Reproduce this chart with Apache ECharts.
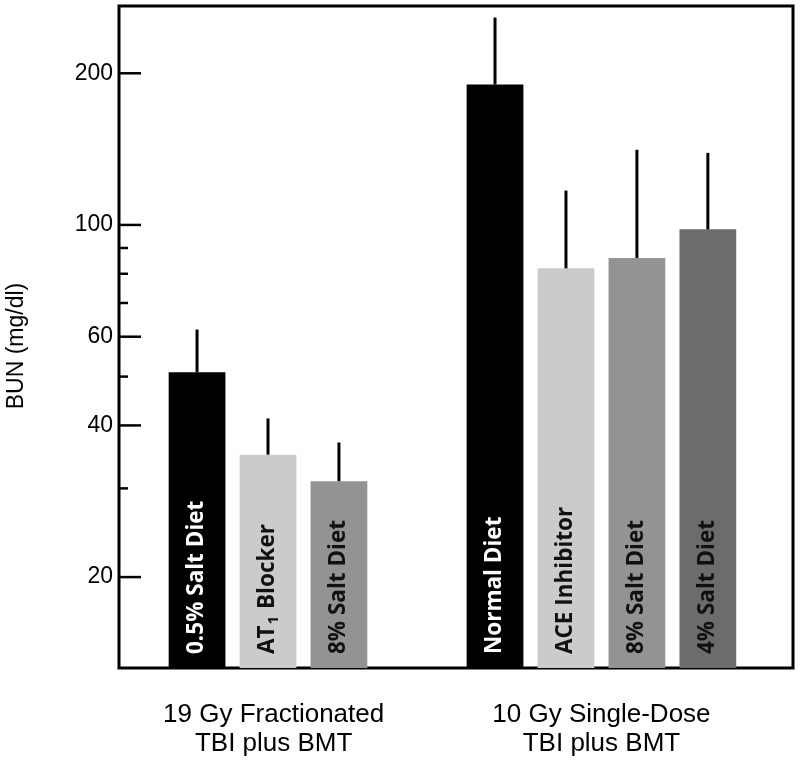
<!DOCTYPE html>
<html>
<head>
<meta charset="utf-8">
<script src="https://cdn.jsdelivr.net/npm/echarts@6/dist/echarts.min.js"></script>
<style>
html,body{margin:0;padding:0;background:#fff;}
#main{width:800px;height:767px;}
</style>
</head>
<body>
<div id="main"></div>
<script>
// ---- data ----
const groupNames = ['19 Gy Fractionated\nTBI plus BMT', '10 Gy Single-Dose\nTBI plus BMT'];
const treatments1 = ['0.5% Salt Diet', 'AT₁ Blocker', '8% Salt Diet'];
const means1 = [51, 35, 31];
const errors1 = [11, 6.3, 6];
const treatments2 = ['Normal Diet', 'ACE Inhibitor', '8% Salt Diet', '4% Salt Diet'];
const means2 = [190, 82, 86, 98];
const errors2 = [68, 35, 55, 41];
const majorTicks = [20, 40, 60, 100, 200];
const minorTicks = [30, 50, 70, 80, 90];
const yTitle = 'BUN (mg/dl)';

// ---- styling / layout ----
const colors1 = ['#000000', '#cbcbcb', '#939393'];
const colors2 = ['#000000', '#cbcbcb', '#939393', '#6c6c6c'];
const groupStart = [1.1, 5.3];
const groupLabelX = [2.18, 6.8];
const barW = 0.8;
const Y_MIN = 13.2, Y_MAX = 272;

const bars = [];
function addGroup(names, means, errs, cols, start) {
  names.forEach((n, i) => {
    bars.push({ name: n, mean: means[i], top: means[i] + errs[i], color: cols[i], x: start + i });
  });
}
addGroup(treatments1, means1, errors1, colors1, groupStart[0]);
addGroup(treatments2, means2, errors2, colors2, groupStart[1]);

function richLabel(t) {
  return t.split('₁').map(p => '{a|' + p + '}').join('{s|1}');
}

const chart = echarts.init(document.getElementById('main'), null, { renderer: 'canvas' });
const option = {
  animation: false,
  backgroundColor: '#fff',
  grid: { left: 119, right: 7, top: 6, bottom: 99, show: true, borderColor: '#000', borderWidth: 3, backgroundColor: 'transparent' },
  xAxis: { type: 'value', min: 0, max: 9.5, show: false },
  yAxis: {
    type: 'log', logBase: 10, min: Y_MIN, max: Y_MAX,
    axisLine: { show: false }, axisTick: { show: false }, axisLabel: { show: false }, splitLine: { show: false }
  },
  graphic: [{
    type: 'text', x: 17, y: 346, rotation: Math.PI / 2,
    style: { text: yTitle, fill: '#000', font: '23px "Liberation Sans", Arial, sans-serif', align: 'center', verticalAlign: 'middle' }
  }],
  series: [
    {
      type: 'custom',
      clip: false,
      encode: { x: 0, y: [1, 2] },
      data: bars.map(b => [b.x, b.mean, b.top]),
      renderItem: function (params, api) {
        const b = bars[params.dataIndex];
        const cs = params.coordSys;
        const bottom = cs.y + cs.height;
        const p = api.coord([api.value(0), api.value(1)]);
        const pt = api.coord([api.value(0), api.value(2)]);
        const w = api.size([barW, 0])[0];
        const textColor = b.color === '#000000' ? '#ffffff' : '#111111';
        const fontBase = { fontFamily: '"Open Sans", sans-serif', fontWeight: 'bold', fill: textColor };
        return {
          type: 'group',
          children: [
            { type: 'rect', shape: { x: p[0] - w / 2, y: p[1], width: w, height: bottom - p[1] }, style: { fill: b.color } },
            { type: 'line', shape: { x1: p[0], y1: p[1], x2: pt[0], y2: pt[1] }, style: { stroke: '#000', lineWidth: 3 } },
            {
              type: 'text', x: p[0] + 1.5, y: bottom - 14, rotation: Math.PI / 2,
              style: {
                text: richLabel(b.name), align: 'left', verticalAlign: 'middle',
                rich: {
                  a: Object.assign({ fontSize: 22.5, lineHeight: 26, verticalAlign: 'top' }, fontBase),
                  s: Object.assign({ fontSize: 15, lineHeight: 18, verticalAlign: 'top', padding: [10, 1, 0, 1] }, fontBase)
                }
              }
            }
          ]
        };
      }
    },
    {
      type: 'custom',
      clip: false,
      encode: { x: 0, y: 1 },
      data: majorTicks.map(v => [0, v, 1]).concat(minorTicks.map(v => [0, v, 0])),
      renderItem: function (params, api) {
        const cs = params.coordSys;
        const v = api.value(1);
        const major = api.value(2) === 1;
        const y = api.coord([0, v])[1];
        const len = major ? 22 : 9;
        const children = [
          { type: 'line', shape: { x1: cs.x, y1: y, x2: cs.x + len, y2: y }, style: { stroke: '#000', lineWidth: 2.5 } }
        ];
        if (major) {
          children.push({
            type: 'text', x: cs.x - 6, y: y,
            style: { text: String(v), fill: '#000', font: '23px "Liberation Sans", Arial, sans-serif', align: 'right', verticalAlign: 'middle' }
          });
        }
        return { type: 'group', children: children };
      }
    },
    {
      type: 'custom',
      clip: false,
      encode: { x: 0, y: 1 },
      data: groupLabelX.map(x => [x, Y_MIN]),
      renderItem: function (params, api) {
        const cs = params.coordSys;
        const x = api.coord([api.value(0), Y_MIN])[0];
        return {
          type: 'text', x: x, y: cs.y + cs.height + 32,
          style: { text: groupNames[params.dataIndex], fill: '#000', font: '26px "Liberation Sans", Arial, sans-serif', align: 'center', verticalAlign: 'top', lineHeight: 29 }
        };
      }
    }
  ]
};
chart.setOption(option);
</script>
</body>
</html>
